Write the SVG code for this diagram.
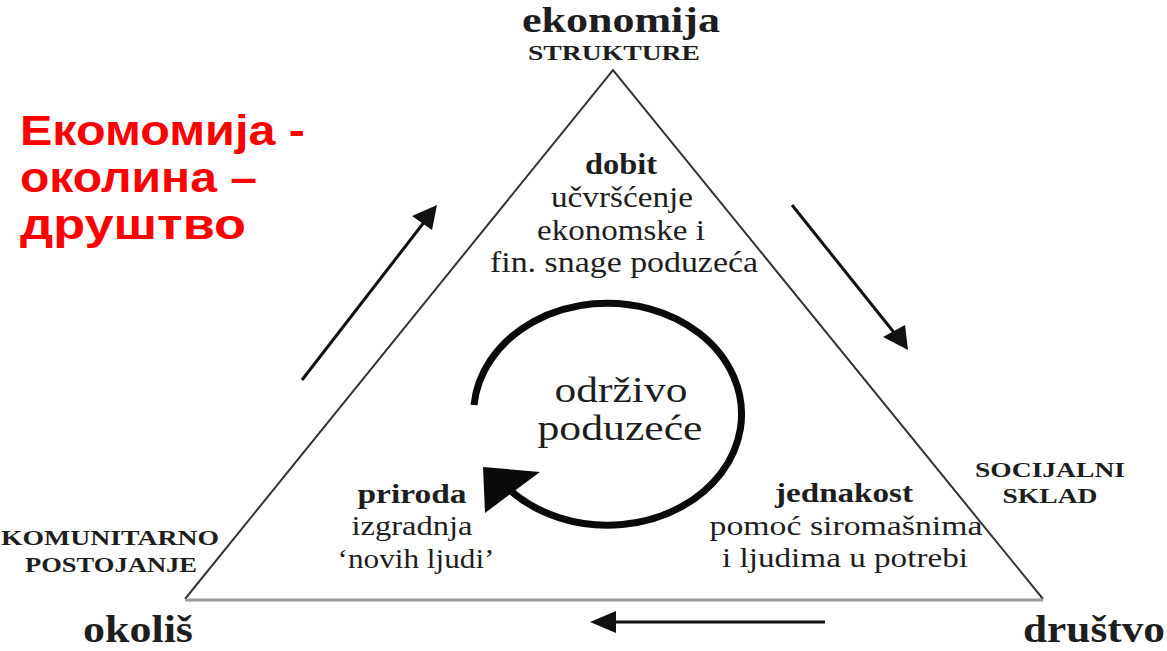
<svg xmlns="http://www.w3.org/2000/svg" width="1167" height="651" viewBox="0 0 1167 651">
<style>
.s{font-family:"Liberation Serif","Times New Roman",serif;fill:#1e1e1e;text-anchor:middle}
.b{font-weight:bold}
.red{font-family:"Liberation Sans",Arial,sans-serif;font-weight:bold;fill:#ff0000;font-size:43px}
.arr{stroke:#111;stroke-width:3;fill:none}
</style>
<rect width="1167" height="651" fill="#ffffff"/>
<g id="triangle">
<path d="M185 599 L613 70 L1043 599" fill="none" stroke="#333" stroke-width="2"/>
<line x1="185" y1="600" x2="1043" y2="600" stroke="#999" stroke-width="3"/>
</g>
<g id="title">
<text class="red" x="20" y="145" textLength="285" lengthAdjust="spacingAndGlyphs">Екомомија -</text>
<text class="red" x="20" y="192" textLength="237" lengthAdjust="spacingAndGlyphs">околина –</text>
<text class="red" x="20" y="239" textLength="226" lengthAdjust="spacingAndGlyphs">друштво</text>
</g>
<g id="node-ekonomija">
<text class="s b" x="621" y="32" font-size="36" textLength="198" lengthAdjust="spacingAndGlyphs">ekonomija</text>
<text class="s b" x="614" y="60" font-size="22" textLength="172" lengthAdjust="spacingAndGlyphs">STRUKTURE</text>
</g>
<g id="node-dobit">
<text class="s b" x="621" y="174" font-size="30" textLength="72" lengthAdjust="spacingAndGlyphs">dobit</text>
<text class="s" x="622" y="207" font-size="30" textLength="142" lengthAdjust="spacingAndGlyphs">učvršćenje</text>
<text class="s" x="621" y="240" font-size="30" textLength="168" lengthAdjust="spacingAndGlyphs">ekonomske i</text>
<text class="s" x="624" y="272" font-size="30" textLength="268" lengthAdjust="spacingAndGlyphs">fin. snage poduzeća</text>
</g>
<g id="node-center">
<path d="M474 405 A134 111 0 1 1 512 492" fill="none" stroke="#0a0a0a" stroke-width="7"/>
<polygon points="483,467 540,472 485,513" fill="#0a0a0a"/>
<text class="s" x="621" y="402" font-size="36" textLength="133" lengthAdjust="spacingAndGlyphs">održivo</text>
<text class="s" x="620" y="440" font-size="36" textLength="165" lengthAdjust="spacingAndGlyphs">poduzeće</text>
</g>
<g id="node-priroda">
<text class="s b" x="412" y="503" font-size="28" textLength="109" lengthAdjust="spacingAndGlyphs">priroda</text>
<text class="s" x="412" y="535" font-size="28" textLength="121" lengthAdjust="spacingAndGlyphs">izgradnja</text>
<text class="s" x="416" y="568" font-size="28" textLength="157" lengthAdjust="spacingAndGlyphs">‘novih ljudi’</text>
</g>
<g id="node-jednakost">
<text class="s b" x="844" y="502" font-size="28" textLength="138" lengthAdjust="spacingAndGlyphs">jednakost</text>
<text class="s" x="846" y="535" font-size="28" textLength="273" lengthAdjust="spacingAndGlyphs">pomoć siromašnima</text>
<text class="s" x="845" y="567" font-size="28" textLength="246" lengthAdjust="spacingAndGlyphs">i ljudima u potrebi</text>
</g>
<g id="node-okolis">
<text class="s b" x="110" y="545" font-size="22" textLength="218" lengthAdjust="spacingAndGlyphs">KOMUNITARNO</text>
<text class="s b" x="111" y="572" font-size="22" textLength="172" lengthAdjust="spacingAndGlyphs">POSTOJANJE</text>
<text class="s b" x="138" y="642" font-size="38" textLength="110" lengthAdjust="spacingAndGlyphs">okoliš</text>
</g>
<g id="node-drustvo">
<text class="s b" x="1050" y="477" font-size="22" textLength="150" lengthAdjust="spacingAndGlyphs">SOCIJALNI</text>
<text class="s b" x="1050" y="503" font-size="22" textLength="95" lengthAdjust="spacingAndGlyphs">SKLAD</text>
<text class="s b" x="1094" y="642" font-size="38" textLength="142" lengthAdjust="spacingAndGlyphs">društvo</text>
</g>
<g id="connectors">
<line class="arr" x1="302" y1="380" x2="425" y2="221"/>
<polygon points="437,205 432,230 412,216" fill="#111"/>
<line class="arr" x1="792" y1="205" x2="896" y2="335"/>
<polygon points="908,350 883,337 905,325" fill="#111"/>
<line class="arr" x1="825" y1="622" x2="610" y2="622"/>
<polygon points="590,622 616,611 616,633" fill="#111"/>
</g>
</svg>
